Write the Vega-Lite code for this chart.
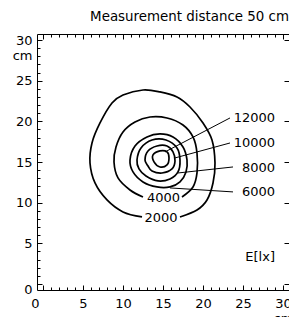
{
  "$schema": "https://vega.github.io/schema/vega-lite/v6.json",
  "width": 252,
  "height": 256,
  "autosize": {"type": "none"},
  "padding": {"left": 37, "top": 34, "right": 0, "bottom": 27},
  "config": {
    "view": {"stroke": "black", "strokeWidth": 1},
    "font": "DejaVu Sans",
    "axis": {"domain": false, "grid": false, "tickColor": "black", "tickWidth": 1, "labelColor": "black", "labelFontSize": 13, "labelFont": "DejaVu Sans", "labelFlush": false, "labelOverlap": false}
  },
  "title": {"text": "Measurement distance 50 cm", "anchor": "end", "frame": "group", "fontSize": 13.4, "fontWeight": "normal", "font": "DejaVu Sans", "color": "black", "baseline": "alphabetic", "offset": -1},
  "datasets": {
    "open": [
      {"level": 2000, "i": 0, "x": 17.125, "y": 8.24},
      {"level": 2000, "i": 1, "x": 19.25, "y": 9.10},
      {"level": 2000, "i": 2, "x": 20.5, "y": 10.33},
      {"level": 2000, "i": 3, "x": 21.25, "y": 12.42},
      {"level": 2000, "i": 4, "x": 21.5, "y": 14.88},
      {"level": 2000, "i": 5, "x": 21.125, "y": 17.71},
      {"level": 2000, "i": 6, "x": 20.0, "y": 19.80},
      {"level": 2000, "i": 7, "x": 18.375, "y": 21.77},
      {"level": 2000, "i": 8, "x": 16.75, "y": 23.0},
      {"level": 2000, "i": 9, "x": 14.625, "y": 23.62},
      {"level": 2000, "i": 10, "x": 12.5, "y": 23.86},
      {"level": 2000, "i": 11, "x": 10.0, "y": 23.25},
      {"level": 2000, "i": 12, "x": 8.625, "y": 22.26},
      {"level": 2000, "i": 13, "x": 7.125, "y": 19.80},
      {"level": 2000, "i": 14, "x": 6.125, "y": 17.34},
      {"level": 2000, "i": 15, "x": 5.875, "y": 14.88},
      {"level": 2000, "i": 16, "x": 6.5, "y": 12.42},
      {"level": 2000, "i": 17, "x": 8.0, "y": 10.33},
      {"level": 2000, "i": 18, "x": 10.0, "y": 8.86},
      {"level": 2000, "i": 19, "x": 12.375, "y": 8.24},
      {"level": 4000, "i": 0, "x": 17.375, "y": 10.70},
      {"level": 4000, "i": 1, "x": 18.75, "y": 11.93},
      {"level": 4000, "i": 2, "x": 19.25, "y": 13.65},
      {"level": 4000, "i": 3, "x": 19.25, "y": 16.11},
      {"level": 4000, "i": 4, "x": 18.75, "y": 18.08},
      {"level": 4000, "i": 5, "x": 17.5, "y": 19.56},
      {"level": 4000, "i": 6, "x": 15.5, "y": 20.42},
      {"level": 4000, "i": 7, "x": 13.375, "y": 20.54},
      {"level": 4000, "i": 8, "x": 11.5, "y": 19.93},
      {"level": 4000, "i": 9, "x": 10.0, "y": 18.70},
      {"level": 4000, "i": 10, "x": 9.125, "y": 16.85},
      {"level": 4000, "i": 11, "x": 8.875, "y": 15.0},
      {"level": 4000, "i": 12, "x": 9.375, "y": 13.04},
      {"level": 4000, "i": 13, "x": 10.875, "y": 11.56},
      {"level": 4000, "i": 14, "x": 12.5, "y": 10.70}
    ],
    "closed": [
      {"level": 6000, "i": 0, "x": 10.875, "y": 15.25},
      {"level": 6000, "i": 1, "x": 11.5, "y": 16.97},
      {"level": 6000, "i": 2, "x": 13.0, "y": 18.08},
      {"level": 6000, "i": 3, "x": 14.625, "y": 18.45},
      {"level": 6000, "i": 4, "x": 16.25, "y": 18.08},
      {"level": 6000, "i": 5, "x": 17.5, "y": 16.85},
      {"level": 6000, "i": 6, "x": 18.0, "y": 15.25},
      {"level": 6000, "i": 7, "x": 17.875, "y": 13.78},
      {"level": 6000, "i": 8, "x": 17.125, "y": 12.55},
      {"level": 6000, "i": 9, "x": 15.875, "y": 11.93},
      {"level": 6000, "i": 10, "x": 14.25, "y": 11.93},
      {"level": 6000, "i": 11, "x": 12.5, "y": 12.55},
      {"level": 6000, "i": 12, "x": 11.25, "y": 13.78},
      {"level": 8000, "i": 0, "x": 11.75, "y": 15.25},
      {"level": 8000, "i": 1, "x": 12.25, "y": 16.73},
      {"level": 8000, "i": 2, "x": 13.625, "y": 17.71},
      {"level": 8000, "i": 3, "x": 15.375, "y": 17.71},
      {"level": 8000, "i": 4, "x": 16.75, "y": 16.73},
      {"level": 8000, "i": 5, "x": 17.125, "y": 15.25},
      {"level": 8000, "i": 6, "x": 16.875, "y": 13.78},
      {"level": 8000, "i": 7, "x": 15.875, "y": 12.92},
      {"level": 8000, "i": 8, "x": 14.375, "y": 12.67},
      {"level": 8000, "i": 9, "x": 12.875, "y": 13.28},
      {"level": 8000, "i": 10, "x": 12.0, "y": 14.15},
      {"level": 10000, "i": 0, "x": 12.75, "y": 15.25},
      {"level": 10000, "i": 1, "x": 13.125, "y": 16.36},
      {"level": 10000, "i": 2, "x": 14.25, "y": 16.97},
      {"level": 10000, "i": 3, "x": 15.5, "y": 16.97},
      {"level": 10000, "i": 4, "x": 16.25, "y": 16.24},
      {"level": 10000, "i": 5, "x": 16.5, "y": 15.13},
      {"level": 10000, "i": 6, "x": 16.125, "y": 14.15},
      {"level": 10000, "i": 7, "x": 14.875, "y": 13.65},
      {"level": 10000, "i": 8, "x": 13.625, "y": 13.90},
      {"level": 10000, "i": 9, "x": 13.125, "y": 14.51},
      {"level": 12000, "i": 0, "x": 13.75, "y": 15.87},
      {"level": 12000, "i": 1, "x": 14.625, "y": 16.36},
      {"level": 12000, "i": 2, "x": 15.5, "y": 16.24},
      {"level": 12000, "i": 3, "x": 15.75, "y": 15.50},
      {"level": 12000, "i": 4, "x": 15.5, "y": 14.64},
      {"level": 12000, "i": 5, "x": 14.625, "y": 14.39},
      {"level": 12000, "i": 6, "x": 13.875, "y": 15.01}
    ],
    "leaders": [
      {"level": 12000, "x1": 15.25, "y1": 16.24, "x2": 23.375, "y2": 20.42},
      {"level": 10000, "x1": 16.5, "y1": 15.5, "x2": 23.375, "y2": 17.34},
      {"level": 8000, "x1": 16.875, "y1": 13.65, "x2": 23.75, "y2": 14.39},
      {"level": 6000, "x1": 15.875, "y1": 11.81, "x2": 23.75, "y2": 11.32}
    ],
    "rlabels": [
      {"label": "12000", "x": 29.0, "y": 20.42},
      {"label": "10000", "x": 29.0, "y": 17.34},
      {"label": "8000", "x": 29.0, "y": 14.27},
      {"label": "6000", "x": 29.0, "y": 11.32},
      {"label": "E[lx]", "x": 29.0, "y": 3.32}
    ],
    "clabels": [
      {"label": "4000", "x": 15.06, "y": 10.58},
      {"label": "2000", "x": 14.75, "y": 8.12}
    ]
  },
  "layer": [
    {
      "data": {"name": "open"},
      "mark": {"type": "line", "interpolate": "cardinal", "stroke": "black", "strokeWidth": 1.7},
      "encoding": {
        "x": {"field": "x", "type": "quantitative", "title": null,
          "scale": {"domain": [-0.75, 30.75], "nice": false, "zero": false},
          "axis": {"orient": "bottom", "values": [0, 5, 10, 15, 20, 25, 30], "tickSize": -5, "labelPadding": 12, "labelBaseline": "top",
            "labelExpr": "datum.value == 30 ? ['30', 'cm'] : datum.label",
            "labelOffset": {"condition": {"test": "datum.value == 0", "value": -8}, "value": 0}}},
        "y": {"field": "y", "type": "quantitative", "title": null,
          "scale": {"domain": [-0.75, 30.75], "nice": false, "zero": false},
          "axis": {"orient": "left", "values": [0, 5, 10, 15, 20, 25, 30], "tickSize": -5, "labelPadding": 10,
            "labelExpr": "datum.value == 30 ? ['30', 'cm'] : datum.label",
            "labelBaseline": {"condition": {"test": "datum.value == 0", "value": "top"}, "value": "middle"}}},
        "detail": {"field": "level"},
        "order": {"field": "i"}
      }
    },
    {
      "data": {"name": "closed"},
      "mark": {"type": "line", "interpolate": "cardinal-closed", "stroke": "black", "strokeWidth": 1.7},
      "encoding": {
        "x": {"field": "x", "type": "quantitative", "title": null,
          "axis": {"orient": "bottom", "values": [0,1,2,3,4,5,6,7,8,9,10,11,12,13,14,15,16,17,18,19,20,21,22,23,24,25,26,27,28,29,30], "tickSize": -3, "labels": false}},
        "y": {"field": "y", "type": "quantitative", "title": null,
          "axis": {"orient": "left", "values": [0,1,2,3,4,5,6,7,8,9,10,11,12,13,14,15,16,17,18,19,20,21,22,23,24,25,26,27,28,29,30], "tickSize": -3, "labels": false}},
        "detail": {"field": "level"},
        "order": {"field": "i"}
      }
    },
    {
      "data": {"name": "leaders"},
      "mark": {"type": "rule", "stroke": "black", "strokeWidth": 1},
      "encoding": {
        "x": {"field": "x1", "type": "quantitative", "title": null,
          "axis": {"orient": "top", "values": [0,1,2,3,4,5,6,7,8,9,10,11,12,13,14,15,16,17,18,19,20,21,22,23,24,25,26,27,28,29,30], "tickSize": -3, "labels": false}},
        "y": {"field": "y1", "type": "quantitative", "title": null,
          "axis": {"orient": "right", "values": [0, 5, 10, 15, 20, 25, 30], "tickSize": -5, "labels": false}},
        "x2": {"field": "x2"},
        "y2": {"field": "y2"}
      }
    },
    {
      "data": {"name": "rlabels"},
      "mark": {"type": "text", "align": "right", "baseline": "middle", "fontSize": 13, "font": "DejaVu Sans", "color": "black"},
      "encoding": {
        "x": {"field": "x", "type": "quantitative", "title": null,
          "axis": {"orient": "top", "values": [0, 5, 10, 15, 20, 25, 30], "tickSize": -5, "labels": false}},
        "y": {"field": "y", "type": "quantitative", "title": null, "axis": null},
        "text": {"field": "label"}
      }
    },
    {
      "data": {"name": "clabels"},
      "mark": {"type": "text", "align": "center", "baseline": "middle", "fontSize": 13, "font": "DejaVu Sans", "color": "black"},
      "encoding": {
        "x": {"field": "x", "type": "quantitative", "title": null, "axis": null},
        "y": {"field": "y", "type": "quantitative", "title": null, "axis": null},
        "text": {"field": "label"}
      }
    }
  ],
  "resolve": {"axis": {"x": "independent", "y": "independent"}}
}
